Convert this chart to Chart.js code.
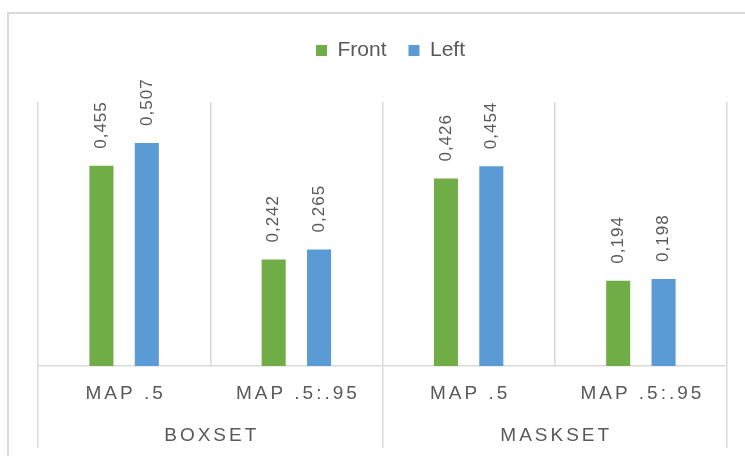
<!DOCTYPE html>
<html>
<head>
<meta charset="utf-8">
<script src="https://cdn.jsdelivr.net/npm/chart.js@4"></script>
<style>
  html,body{margin:0;padding:0;background:#fff;overflow:hidden}
  #wrap{position:relative;width:745px;height:456px}
  #frame{position:absolute;left:7px;top:12px;width:1000px;height:1000px;border:2px solid #d9d9d9;box-sizing:border-box}
  #c{position:absolute;left:0;top:0}
</style>
</head>
<body>
<div id="wrap">
  <div id="frame"></div>
  <canvas id="c" width="745" height="456"></canvas>
</div>
<script>
// === data ===
const subLabels   = ["MAP .5", "MAP .5:.95", "MAP .5", "MAP .5:.95"];
const groupLabels = ["BOXSET", "MASKSET"];
const frontVals   = [0.455, 0.242, 0.426, 0.194];
const leftVals    = [0.507, 0.265, 0.454, 0.198];

const GRID = "#d9d9d9", TXT = "#595959";
const FONT = "'Liberation Sans', Arial, sans-serif";

// push the plot area down below the legend, nudge legend a bit right
const legendMargin = {
  id:"legendMargin",
  beforeInit(chart){
    const lg = chart.legend;
    const fit = lg.fit, draw = lg.draw;
    lg.fit = function(){ fit.call(this); this.height += 31; };
    lg.draw = function(){
      const ctx = this.ctx;
      ctx.save(); ctx.translate(8, 0); draw.call(this); ctx.restore();
    };
  }
};

// rotated value labels + two-level category axis text
const labelsPlugin = {
  id:"labelsPlugin",
  afterDatasetsDraw(chart){
    const ctx = chart.ctx;
    ctx.save();
    ctx.fillStyle = TXT;
    ctx.font = "17px " + FONT;
    ctx.letterSpacing = "1px";
    ctx.textAlign = "left";
    ctx.textBaseline = "middle";
    chart.data.datasets.forEach((ds, di)=>{
      chart.getDatasetMeta(di).data.forEach((bar, i)=>{
        ctx.save();
        ctx.translate(bar.x, bar.y - 17);
        ctx.rotate(-Math.PI/2);
        ctx.fillText(String(ds.data[i]).replace(".", ","), 0, 0);
        ctx.restore();
      });
    });
    const x = chart.scales.x;
    ctx.textAlign = "center";
    ctx.font = "19px " + FONT;
    ctx.letterSpacing = "3px";
    subLabels.forEach((l, i)=> ctx.fillText(l, x.getPixelForValue(i) + 1.5, 394));
    groupLabels.forEach((l, g)=>{
      const mid = (x.getPixelForValue(g*2) + x.getPixelForValue(g*2+1))/2;
      ctx.fillText(l, mid + 1.5, 436);
    });
    ctx.restore();
  }
};

new Chart(document.getElementById("c"), {
  type:"bar",
  data:{
    labels: subLabels,
    datasets:[
      { label:"Front", data: frontVals, backgroundColor:"#70ad47", categoryPercentage:0.527, barPercentage:0.53 },
      { label:"Left",  data: leftVals,  backgroundColor:"#5b9bd5", categoryPercentage:0.527, barPercentage:0.53 }
    ]
  },
  options:{
    responsive:false,
    animation:false,
    layout:{ padding:{ top:18, left:38, right:18, bottom:8 } },
    plugins:{
      legend:{
        position:"top",
        labels:{ boxWidth:11, boxHeight:11, color:TXT, font:{ size:21, family:FONT }, padding:22 }
      },
      tooltip:{ enabled:false }
    },
    scales:{
      x:{
        grid:{
          offset:true,
          color:GRID,
          lineWidth:1.5,
          tickLength:82,
          tickColor:(c)=> (c.type === "tick" && c.index % 2 === 1) ? "transparent" : GRID
        },
        border:{ color:GRID, width:1.5 },
        ticks:{ display:false }
      },
      y:{ display:false, min:0, max:0.6 }
    }
  },
  plugins:[legendMargin, labelsPlugin]
});
</script>
</body>
</html>
